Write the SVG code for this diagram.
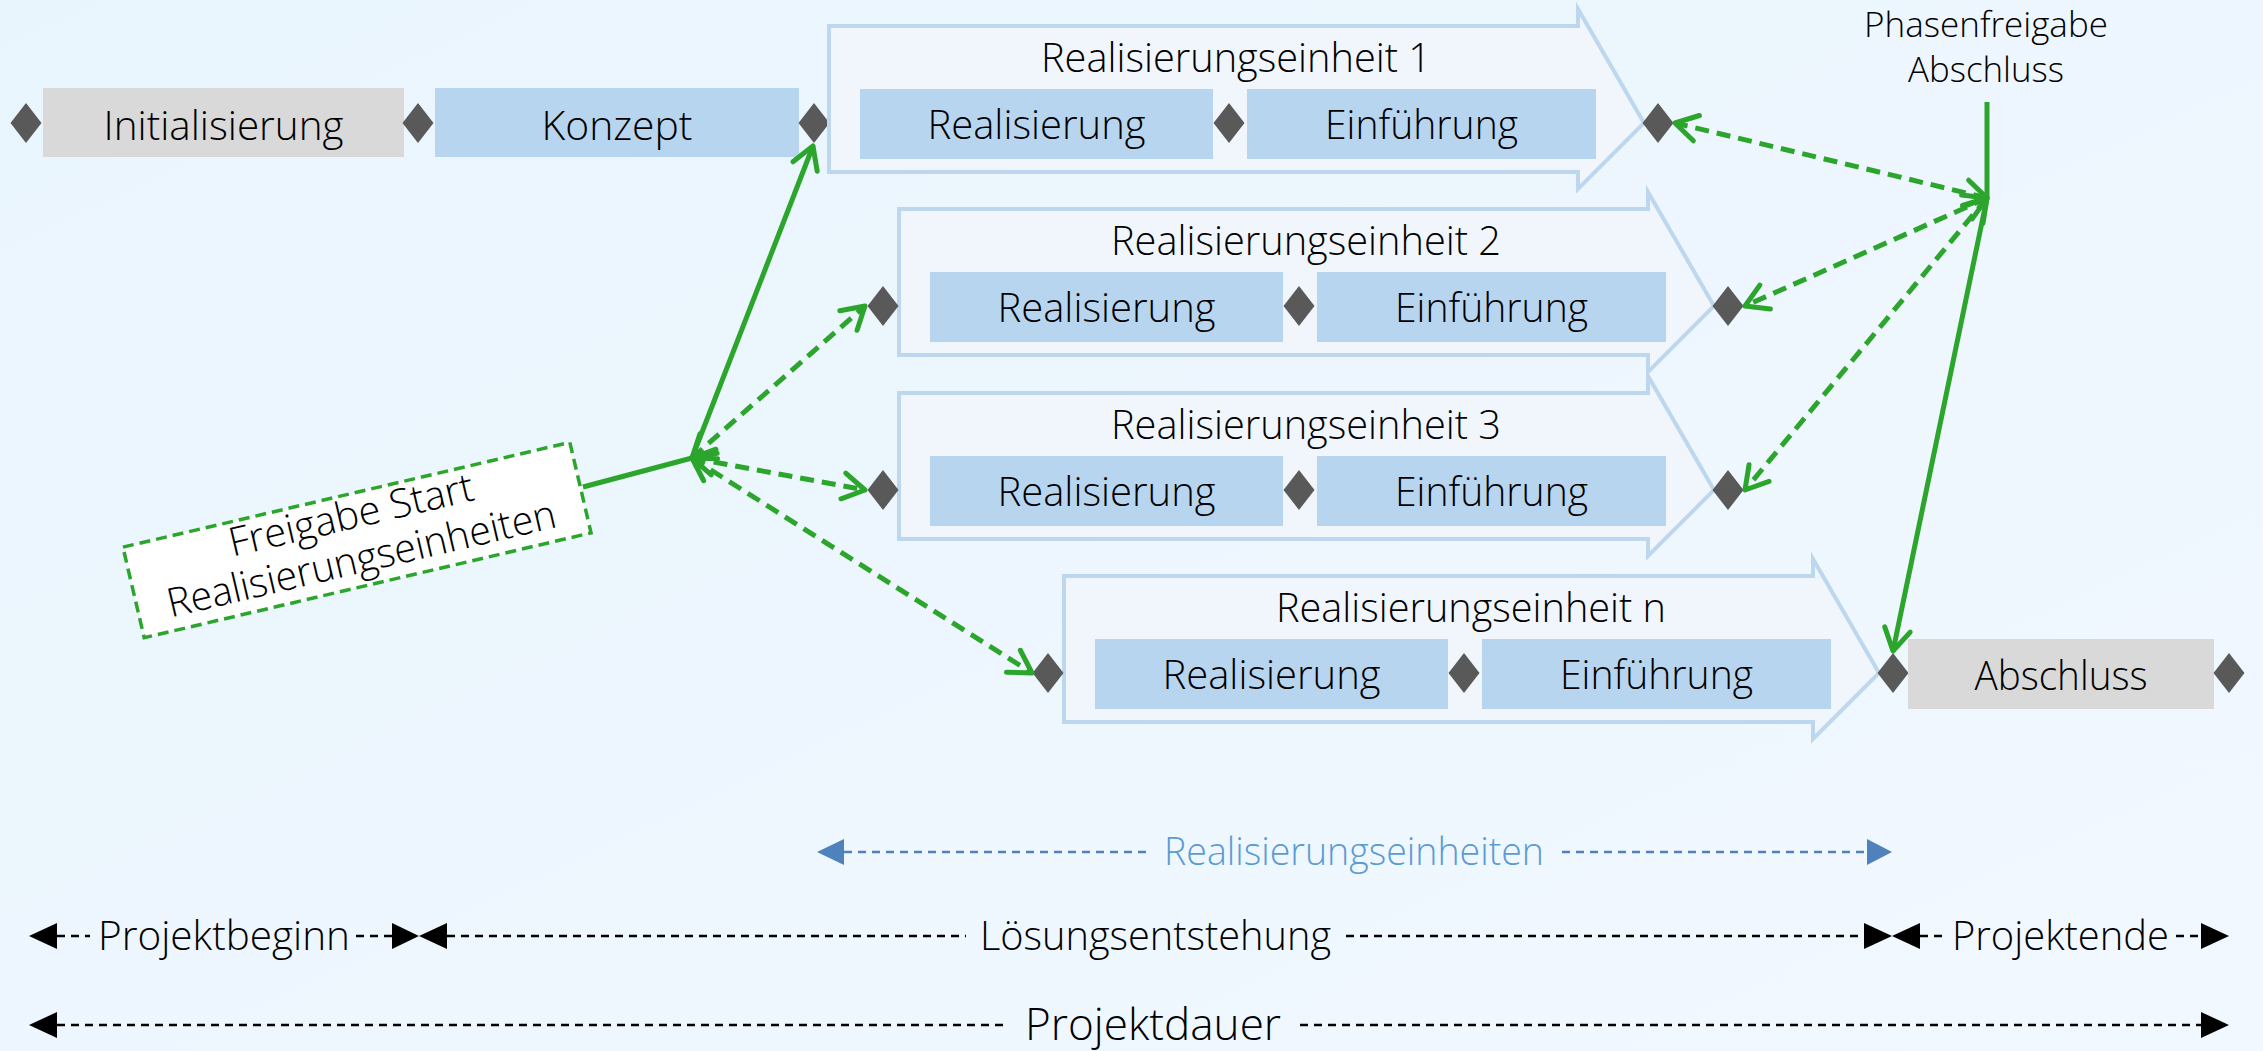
<svg xmlns="http://www.w3.org/2000/svg" xmlns:xlink="http://www.w3.org/1999/xlink" width="2263" height="1051" viewBox="0 0 2263 1051">
<defs>
<linearGradient id="bg" x1="0" y1="0" x2="1" y2="1">
<stop offset="0" stop-color="#E9F5FD"/>
<stop offset="1" stop-color="#F2F8FF"/>
</linearGradient>
<path id="dia" d="M-15.5,0 L0,-20 L15.5,0 L0,20 Z" fill="#595959"/>
<path id="re" d="M0,0 H749 V-17 L815,97 L749,163 V146 H0 Z"/>
<marker id="gopen" markerUnits="userSpaceOnUse" markerWidth="40" markerHeight="40" refX="0" refY="0" viewBox="-30 -20 40 40" orient="auto-start-reverse" overflow="visible">
<path d="M-22,-13 L0,0 L-22,13" fill="none" stroke="#2CA52C" stroke-width="5" stroke-linecap="round" stroke-linejoin="round"/>
</marker>
<style>
text{font-family:"Open Sans","Noto Sans","Liberation Sans",sans-serif;font-weight:300;fill:#000;text-anchor:middle}
.t40{font-size:40px}
.t34{font-size:34px}
.t44{font-size:44px}
.blue{fill:#5B9BD5;font-size:38px}
.gray{fill:#D9D9D9}
.lb{fill:#B8D5F0}
.arr{fill:#F1F6FC;stroke:#BDD7EE;stroke-width:4}
.g{fill:none;stroke:#2CA52C;stroke-width:5}
.gd{fill:none;stroke:#2CA52C;stroke-width:5;stroke-dasharray:14 8}
.bd{fill:none;stroke:#000;stroke-width:2.5;stroke-dasharray:8 6}
.bld{fill:none;stroke:#4F81BD;stroke-width:2.5;stroke-dasharray:8 6}
.bh{fill:#000}
.blh{fill:#4F81BD}
</style>
</defs>
<rect x="0" y="0" width="2263" height="1051" fill="url(#bg)"/>

<g id="n-initialisierung">
<rect class="gray" x="43" y="88" width="361" height="69"/>
<text class="t40" x="223.5" y="140" textLength="240" lengthAdjust="spacingAndGlyphs">Initialisierung</text>
</g>
<g id="n-konzept">
<rect class="lb" x="435" y="88" width="364" height="69"/>
<text class="t40" x="617" y="140" textLength="151" lengthAdjust="spacingAndGlyphs">Konzept</text>
</g>
<g id="milestones-top">
<use href="#dia" x="26" y="123"/>
<use href="#dia" x="418" y="123"/>
<use href="#dia" x="814" y="123"/>
</g>

<g id="n-re1" transform="translate(829 26)">
<use href="#re" class="arr"/>
<text class="t40" x="407" y="46" textLength="390" lengthAdjust="spacingAndGlyphs">Realisierungseinheit 1</text>
<rect class="lb" x="31" y="63" width="353" height="70"/>
<text class="t40" x="207.5" y="113" textLength="218" lengthAdjust="spacingAndGlyphs">Realisierung</text>
<use href="#dia" x="400" y="97"/>
<rect class="lb" x="418" y="63" width="349" height="70"/>
<text class="t40" x="592.5" y="113" textLength="193" lengthAdjust="spacingAndGlyphs">Einführung</text>
<use href="#dia" x="829" y="97"/>
</g>

<g id="n-re2" transform="translate(899 209)">
<use href="#re" class="arr"/>
<text class="t40" x="407" y="46" textLength="390" lengthAdjust="spacingAndGlyphs">Realisierungseinheit 2</text>
<use href="#dia" x="-16" y="97"/>
<rect class="lb" x="31" y="63" width="353" height="70"/>
<text class="t40" x="207.5" y="113" textLength="218" lengthAdjust="spacingAndGlyphs">Realisierung</text>
<use href="#dia" x="400" y="97"/>
<rect class="lb" x="418" y="63" width="349" height="70"/>
<text class="t40" x="592.5" y="113" textLength="193" lengthAdjust="spacingAndGlyphs">Einführung</text>
<use href="#dia" x="829" y="97"/>
</g>

<g id="n-re3" transform="translate(899 393)">
<use href="#re" class="arr"/>
<text class="t40" x="407" y="46" textLength="390" lengthAdjust="spacingAndGlyphs">Realisierungseinheit 3</text>
<use href="#dia" x="-16" y="97"/>
<rect class="lb" x="31" y="63" width="353" height="70"/>
<text class="t40" x="207.5" y="113" textLength="218" lengthAdjust="spacingAndGlyphs">Realisierung</text>
<use href="#dia" x="400" y="97"/>
<rect class="lb" x="418" y="63" width="349" height="70"/>
<text class="t40" x="592.5" y="113" textLength="193" lengthAdjust="spacingAndGlyphs">Einführung</text>
<use href="#dia" x="829" y="97"/>
</g>

<g id="n-ren" transform="translate(1064 576)">
<use href="#re" class="arr"/>
<text class="t40" x="407" y="46" textLength="390" lengthAdjust="spacingAndGlyphs">Realisierungseinheit n</text>
<use href="#dia" x="-16" y="97"/>
<rect class="lb" x="31" y="63" width="353" height="70"/>
<text class="t40" x="207.5" y="113" textLength="218" lengthAdjust="spacingAndGlyphs">Realisierung</text>
<use href="#dia" x="400" y="97"/>
<rect class="lb" x="418" y="63" width="349" height="70"/>
<text class="t40" x="592.5" y="113" textLength="193" lengthAdjust="spacingAndGlyphs">Einführung</text>
<use href="#dia" x="829" y="97"/>
</g>

<g id="n-abschluss">
<rect class="gray" x="1908" y="639" width="306" height="70"/>
<text class="t40" x="2061" y="690" textLength="173" lengthAdjust="spacingAndGlyphs">Abschluss</text>
<use href="#dia" x="2229" y="673"/>
</g>

<g id="n-freigabe-start" transform="translate(357 540) rotate(-13.2)">
<rect x="-229.5" y="-46.5" width="459" height="93" fill="#FFFFFF" stroke="#2CA52C" stroke-width="3.5" stroke-dasharray="11 6"/>
<text class="t40" x="0" y="-12" textLength="250" lengthAdjust="spacingAndGlyphs">Freigabe Start</text>
<text class="t40" x="0" y="33" textLength="398" lengthAdjust="spacingAndGlyphs">Realisierungseinheiten</text>
</g>

<g id="n-phasenfreigabe">
<text class="t34" x="1986" y="37" textLength="244" lengthAdjust="spacingAndGlyphs">Phasenfreigabe</text>
<text class="t34" x="1986" y="82" textLength="156" lengthAdjust="spacingAndGlyphs">Abschluss</text>
</g>

<g id="connectors">
<path class="g" d="M583,487 L692,458"/>
<path class="g" d="M692,458 L813,146" marker-end="url(#gopen)"/>
<path class="gd" d="M692,458 L865,306" marker-start="url(#gopen)" marker-end="url(#gopen)"/>
<path class="gd" d="M692,458 L865,490" marker-start="url(#gopen)" marker-end="url(#gopen)"/>
<path class="gd" d="M692,458 L1032,673" marker-start="url(#gopen)" marker-end="url(#gopen)"/>
<path class="g" d="M1987,102 L1987,198 L1893,651" marker-end="url(#gopen)"/>
<path class="gd" d="M1987,198 L1675,123" marker-start="url(#gopen)" marker-end="url(#gopen)"/>
<path class="gd" d="M1987,198 L1745,306" marker-start="url(#gopen)" marker-end="url(#gopen)"/>
<path class="gd" d="M1987,198 L1745,490" marker-start="url(#gopen)" marker-end="url(#gopen)"/>
</g>

<g id="dim-realisierungseinheiten">
<polygon class="blh" points="817,852 844,839 844,865"/>
<path class="bld" d="M844,852 H1152"/>
<text class="blue" x="1354" y="865" textLength="380" lengthAdjust="spacingAndGlyphs">Realisierungseinheiten</text>
<path class="bld" d="M1562,852 H1867"/>
<polygon class="blh" points="1892,852 1867,839 1867,865"/>
</g>

<g id="dim-phasen">
<polygon class="bh" points="29,936 57,923 57,949"/>
<path class="bd" d="M57,936 H90"/>
<text class="t40" x="224" y="950" textLength="252" lengthAdjust="spacingAndGlyphs">Projektbeginn</text>
<path class="bd" d="M356,936 H392"/>
<polygon class="bh" points="419,936 392,923 392,949"/>
<polygon class="bh" points="419,936 447,923 447,949"/>
<path class="bd" d="M447,936 H966"/>
<text class="t40" x="1155.5" y="950" textLength="351" lengthAdjust="spacingAndGlyphs">Lösungsentstehung</text>
<path class="bd" d="M1346,936 H1864"/>
<polygon class="bh" points="1892,936 1864,923 1864,949"/>
<polygon class="bh" points="1892,936 1920,923 1920,949"/>
<path class="bd" d="M1920,936 H1946"/>
<text class="t40" x="2060.5" y="950" textLength="217" lengthAdjust="spacingAndGlyphs">Projektende</text>
<path class="bd" d="M2176,936 H2201"/>
<polygon class="bh" points="2229,936 2201,923 2201,949"/>
</g>

<g id="dim-projektdauer">
<polygon class="bh" points="29,1025 57,1012 57,1038"/>
<path class="bd" d="M57,1025 H1006"/>
<text class="t44" x="1153" y="1040" textLength="256" lengthAdjust="spacingAndGlyphs">Projektdauer</text>
<path class="bd" d="M1300,1025 H2201"/>
<polygon class="bh" points="2229,1025 2201,1012 2201,1038"/>
</g>
</svg>
